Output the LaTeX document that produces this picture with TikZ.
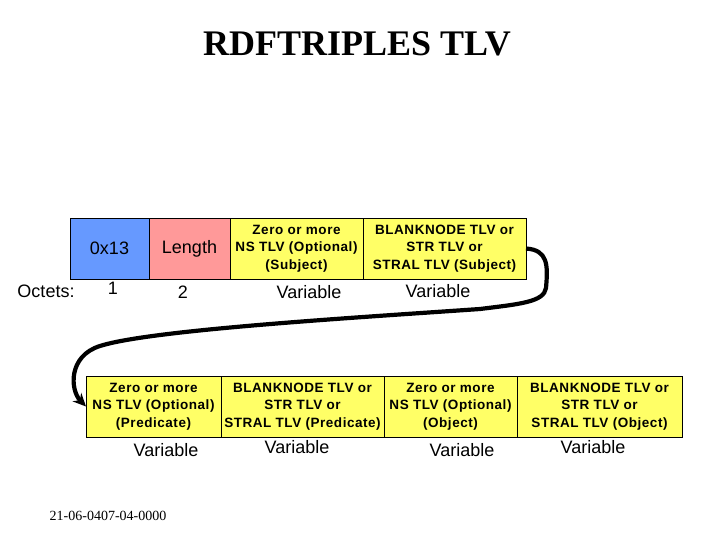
\documentclass[tikz,border=0pt]{standalone}
\usepackage{fontspec}
\setmainfont{Liberation Serif}
\setsansfont{Liberation Sans}
\newfontfamily\boxfont[LetterSpace=4]{Liberation Sans}
\usetikzlibrary{arrows.meta}
\definecolor{boxblue}{RGB}{102,153,255}
\definecolor{boxpink}{RGB}{255,153,153}
\definecolor{boxyellow}{RGB}{255,255,102}
\begin{document}
\begin{tikzpicture}[x=1pt,y=-1pt,
  cell/.style={draw=black,line width=0.8pt,inner sep=0pt,outer sep=0pt,minimum height=61pt,align=center},
  big/.style={font=\sffamily\fontsize{18}{21}\selectfont},
  small/.style={font=\boxfont\bfseries\fontsize{13.5}{17.5}\selectfont},
  lbl/.style={inner sep=0pt,font=\sffamily\fontsize{18}{21}\selectfont},
  link/.style={line width=4.2pt,-{Stealth[length=13pt,width=12pt]}}]
\useasboundingbox (0,0) rectangle (720,540);
\node[font=\bfseries\fontsize{36}{40}\selectfont] (title) at (357,44) {RDFTRIPLES TLV};
% top row
\node[cell,big,fill=boxblue,minimum width=79pt] (t1) at (109.5,248.5) {0x13};
\node[cell,big,fill=boxpink,minimum width=81pt] (t2) at (189.5,248.5) {Length};
\node[cell,small,fill=boxyellow,minimum width=133pt] (t3) at (296.5,248.5) {Zero or more\\NS TLV (Optional)\\(Subject)};
\node[cell,small,fill=boxyellow,minimum width=163pt] (t4) at (444.5,248.5) {BLANKNODE TLV or\\STR TLV or\\STRAL TLV (Subject)};
\node[lbl] (oct) at (46,291) {Octets:};
\node[lbl] (v1) at (113,288) {1};
\node[lbl] (v2) at (183,292) {2};
\node[lbl] (v3) at (309,292) {Variable};
\node[lbl] (v4) at (438,291) {Variable};
% bottom row
\node[cell,small,fill=boxyellow,minimum width=135pt] (b1) at (153.5,406.5) {Zero or more\\NS TLV (Optional)\\(Predicate)};
\node[cell,small,fill=boxyellow,minimum width=163pt] (b2) at (302.5,406.5) {BLANKNODE TLV or\\STR TLV or\\STRAL TLV (Predicate)};
\node[cell,small,fill=boxyellow,minimum width=133pt] (b3) at (450.5,406.5) {Zero or more\\NS TLV (Optional)\\(Object)};
\node[cell,small,fill=boxyellow,minimum width=165pt] (b4) at (599.5,406.5) {BLANKNODE TLV or\\STR TLV or\\STRAL TLV (Object)};
\node[lbl] (w1) at (166,450) {Variable};
\node[lbl] (w2) at (297,447) {Variable};
\node[lbl] (w3) at (462,450) {Variable};
\node[lbl] (w4) at (593,447) {Variable};
% connector
\draw[link] (t4.east) .. controls (548,250) and (548,265) .. (546,288)
  .. controls (544,302) and (520,304) .. (480,309)
  .. controls (350,318) and (150,330) .. (100,346)
  .. controls (68,356) and (70,390) .. (b1.west);
% footer
\node[font=\fontsize{14}{16}\selectfont] (foot) at (108,516) {21-06-0407-04-0000};
\end{tikzpicture}
\end{document}
